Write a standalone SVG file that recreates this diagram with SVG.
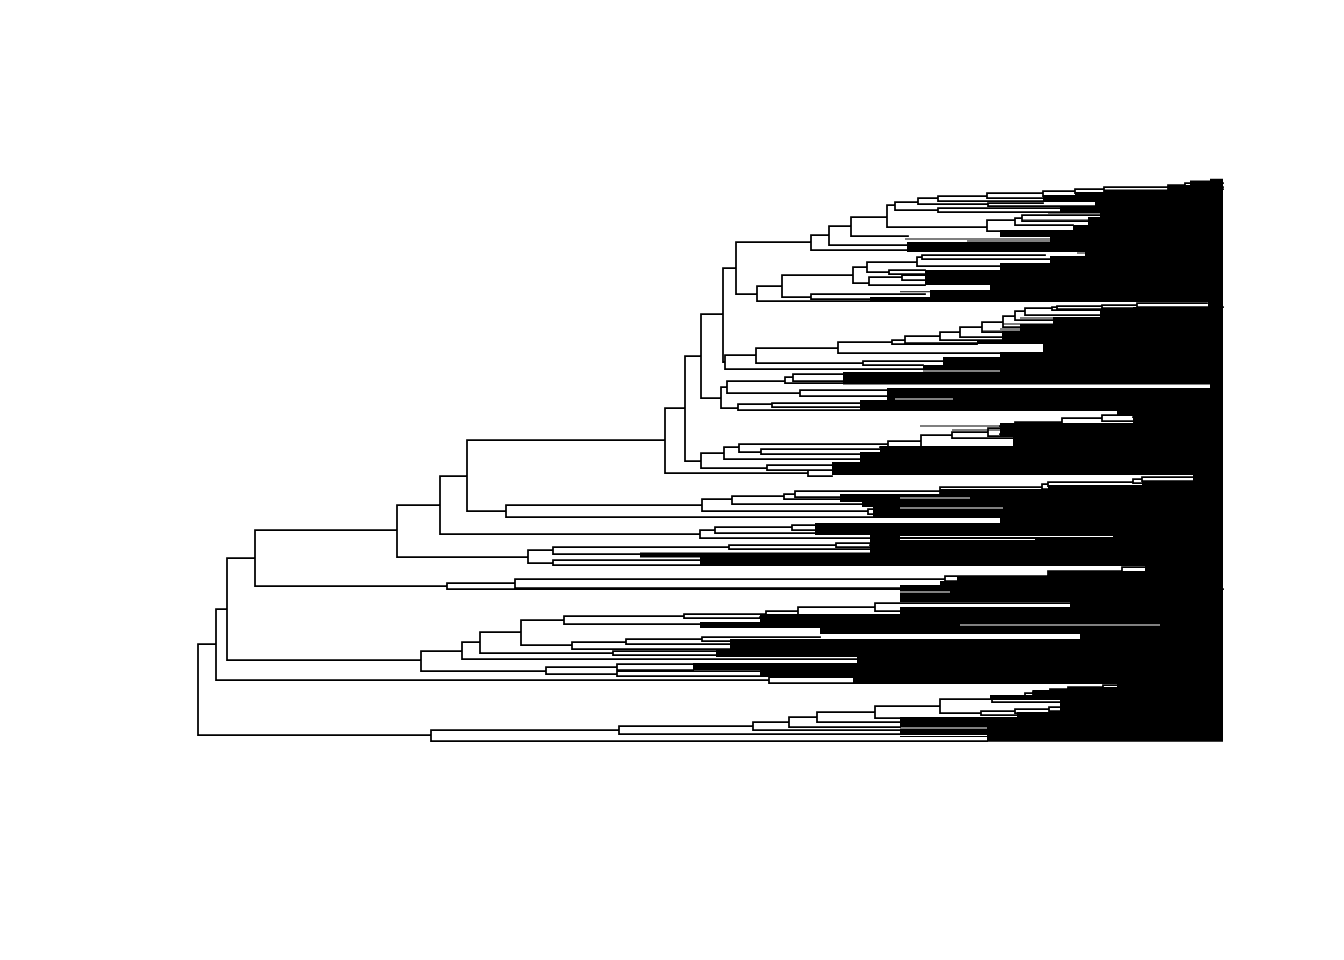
<svg xmlns="http://www.w3.org/2000/svg" width="1344" height="960" viewBox="0 0 1344 960">
<style>
.edge{fill:none;stroke:#000;stroke-width:1.75;stroke-linecap:square}
.fine{fill:none;stroke:#000;stroke-width:1.1}
.mass{fill:#000;stroke:none}
.gap{fill:none;stroke:#fff;stroke-width:1.2}
</style>
<rect width="1344" height="960" fill="#fff"/>
<g id="tips">
<path class="mass" d="M1210,178.7H1223V180.5H1210Z M1190,180.5H1223V185H1190Z M1168,185H1223V189.5H1168Z M1104,189.5H1223V192H1104Z M1075,192H1223V195H1075Z M1043,195H1223V202H1043Z M1095,202H1223V207H1095Z M1060,207H1223V212H1060Z M1100,212H1223V217H1100Z M1088,217H1223V225H1088Z M1073,225H1223V230H1073Z M1000,230H1223V237H1000Z M1050,237H1223V242H1050Z M907,242H1223V252H907Z M1085,252H1223V256H1085Z M1050,256H1223V263H1050Z M1000,263H1223V270H1000Z M925,270H1223V285H925Z M990,285H1223V290H990Z M930,290H1223V297H930Z M870,297H1223V302H870Z M1208,302H1223V307H1208Z M1133,307H1223V311H1133Z M1100,311H1223V317H1100Z M1053,317H1223V324H1053Z M1020,324H1223V331H1020Z M1002,331H1223V340H1002Z M977,340H1223V344H977Z M1043,344H1223V352H1043Z M1000,352H1223V357H1000Z M943,357H1223V365H943Z M923,365H1223V372H923Z M843,372H1223V384.5H843Z M1210,384.5H1223V388H1210Z M887,388H1223V400H887Z M860,400H1223V411H860Z M1117,411H1223V415H1117Z M1133,415H1223V423H1133Z M1000,423H1223V437H1000Z M1013,437H1223V446H1013Z M880,446H1223V452H880Z M860,452H1223V462H860Z M832,462H1223V475H832Z M1193,475H1223V481H1193Z M1142,481H1223V485H1142Z M1048,485H1223V489H1048Z M940,489H1223V494H940Z M840,494H1223V502H840Z M862,502H1223V507H862Z M873,507H1223V518H873Z M1000,518H1223V523H1000Z M815,523H1223V535H815Z M870,535H1223V552.5H870Z M640,552.5H1223V557.5H640Z M700,557.5H1223V566H700Z M1145,566H1223V571H1145Z M1048,571H1223V576H1048Z M957,576H1223V581H957Z M940,581H1223V585H940Z M900,585H1223V602H900Z M1070,602H1223V607H1070Z M900,607H1223V614H900Z M760,614H1223V622H760Z M700,622H1223V628H700Z M820,628H1223V634H820Z M1080,634H1223V639H1080Z M730,639H1223V650H730Z M716,650H1223V657H716Z M857,657H1223V663H857Z M693,663H1223V670H693Z M760,670H1223V677H760Z M853,677H1223V684H853Z M1117,684H1223V687H1117Z M1068,687H1223V690H1068Z M1033,690H1223V695H1033Z M990,695H1223V700H990Z M1060,700H1223V712H1060Z M1017,712H1223V717H1017Z M900,717H1223V737H900Z M987,737H1223V741.7H987Z"/>
<path class="gap" d="M895,399H953 M905,371H1000 M900,498H970 M900,508H1003 M900,536.5H1113 M900,539.5H1035 M900,592H950 M960,625H1160 M900,728H987 M900,735.5H987 M900,288.5H987"/>
<path class="fine" d="M905,239H1050 M967,241H1050 M1048,213H1100 M1022,220H1127 M932,281H1077 M900,291.7H987 M1077,253H1137 M1020,318H1067 M1003,324H1053 M982,331H1020 M1000,329H1020 M920,426H1000 M952,430H1000"/>
</g>
<g id="connectors">
<path class="edge" d="M198,644V735 M198,644H216 M198,735H431
M216,609V680 M216,609H227 M216,680H769
M227,558V660 M227,558H255 M227,660H421
M255,530V586 M255,530H397 M255,586H447
M397,505V557 M397,505H440 M397,557H528
M440,476V534 M440,476H467 M440,534H700
M467,440V511 M467,440H665 M467,511H506
M665,408V473 M665,408H685 M665,473H808
M685,356V461 M685,356H701 M685,461H701
M701,314V398 M701,314H723 M701,398H721
M723,268V362 M723,268H736 M723,362H725
M736,242V294 M736,242H811 M736,294H757
M811,235V250 M811,235H829 M811,250H907
M829,226V245 M829,226H851 M829,245H907
M851,217V236 M851,217H887 M851,236H908
M887,205V227 M887,205H895 M887,227H987
M987,220V231 M987,220H1015 M987,231H1000
M1015,218V225 M1015,218H1022 M1015,225H1073
M1022,215V221 M1022,215H1100 M1022,221H1088
M895,202V210 M895,202H918 M895,210H938
M938,208V212 M938,208H1060 M938,212H1100
M918,198V204 M918,198H938 M918,204H988
M938,196V201 M938,196H987 M938,201H1043
M988,203V206 M988,203H1043 M988,206H1095
M987,193V198 M987,193H1043 M987,198H1043
M1043,191V196 M1043,191H1075
M1075,189V193 M1075,189H1104
M1104,187V191 M1104,187H1168
M1168,185V189 M1168,185H1185 M1168,189H1223
M1185,183V187 M1185,183H1223 M1185,187H1223
M757,286V301 M757,286H782 M757,301H930
M782,275V297 M782,275H853 M782,297H811
M811,294V299 M811,294H925 M811,299H930
M853,267V283 M853,267H867 M853,283H869
M867,262V272 M867,262H917 M867,272H889
M889,270V274 M889,270H925 M889,274H925
M917,257V266 M917,257H922 M917,266H1000
M922,255V259 M922,255H1045 M922,259H1050
M869,277V285 M869,277H902 M869,285H925
M902,275V280 M902,275H925 M902,280H925
M725,355V369 M725,355H756 M725,369H923
M756,348V363 M756,348H838 M756,363H863
M838,342V353 M838,342H892 M838,353H1000
M892,340V344 M892,340H905 M892,344H977
M905,336V343 M905,336H940 M905,343H1043
M940,332V340 M940,332H960 M940,340H1002
M960,327V337 M960,327H982 M960,337H1002
M982,322V332 M982,322H1003 M982,332H1002
M1003,316V327 M1003,316H1015 M1003,327H1020
M1015,311V320 M1015,311H1025 M1015,320H1053
M1025,308V315 M1025,308H1052 M1025,315H1100
M1052,307V310 M1052,307H1057 M1052,310H1133
M1057,306V309 M1057,306H1102 M1057,309H1133
M1102,305V308 M1102,305H1137 M1102,308H1133
M1137,303V307 M1137,303H1207 M1137,307H1223
M863,361V365 M863,361H943 M863,365H923
M721,387V408 M721,387H727 M721,408H738
M727,381V393 M727,381H785 M727,393H800
M785,377V383 M785,377H793 M785,383H843
M793,374V381 M793,374H881 M793,381H843
M800,390V396 M800,390H887 M800,396H910
M738,404V410 M738,404H772 M738,410H860
M772,403V407 M772,403H860 M772,407H860
M701,453V468 M701,453H724 M701,468H767
M724,447V459 M724,447H739 M724,459H860
M739,444V452 M739,444H888 M739,452H761
M761,449V454 M761,449H880 M761,454H860
M888,441V447 M888,441H921 M888,447H880
M921,435V447 M921,435H952 M921,447H925
M952,432V438 M952,432H988 M952,438H1013
M988,428V436 M988,428H1015 M988,436H1000
M1015,422V434 M1015,422H1062 M1015,434H1000
M1062,418V426 M1062,418H1102 M1062,426H1000
M1102,415V421 M1102,415H1137 M1102,421H1133
M1137,413V417 M1137,413H1207 M1137,417H1133
M767,465V470 M767,465H832 M767,470H832
M808,470V476 M808,470H832 M808,476H832
M506,505V517 M506,505H702 M506,517H1000
M702,499V511 M702,499H732 M702,511H868
M868,509V514 M868,509H873 M868,514H873
M732,496V504 M732,496H784 M732,504H862
M784,494V499 M784,494H795 M784,499H840
M795,491V497 M795,491H940 M795,497H840
M940,487V495 M940,487H1042
M1042,484V489 M1042,484H1048 M1042,489H1048
M1048,482V486 M1048,482H1133 M1048,486H1100
M1133,479V483 M1133,479H1142 M1133,483H1142
M1142,477V481 M1142,477H1193 M1142,481H1193
M700,530V538 M700,530H715 M700,538H870
M715,527V533 M715,527H792 M715,533H815
M792,525V530 M792,525H1000 M792,530H815
M528,550V563 M528,550H553 M528,563H553
M553,547V554 M553,547H729 M553,554H640
M729,545V549 M729,545H836 M729,549H870
M836,543V547 M836,543H882 M836,547H870
M882,541V545 M882,541H1000 M882,545H870
M553,560V565 M553,560H700 M553,565H700
M447,583V589 M447,583H515 M447,589H1223
M515,579V588 M515,579H945 M515,588H900
M945,576V581 M945,576H1048 M945,581H957
M1048,571V577 M1048,571H1122 M1048,577H1060
M1122,567V573 M1122,567H1158 M1122,573H1145
M421,651V671 M421,651H462 M421,671H546
M462,642V659 M462,642H480 M462,659H857
M480,632V653 M480,632H521 M480,653H613
M613,651V655 M613,651H716 M613,655H716
M521,620V645 M521,620H564 M521,645H572
M564,616V624 M564,616H684 M564,624H700
M684,614V618 M684,614H766 M684,618H760
M766,611V617 M766,611H798 M766,617H760
M798,607V615 M798,607H875 M798,615H900
M875,603V611 M875,603H1070 M875,611H900
M572,642V649 M572,642H626 M572,649H730
M626,639V644 M626,639H702 M626,644H730
M702,637V641 M702,637H820 M702,641H730
M546,667V674 M546,667H617 M546,674H617
M617,664V670 M617,664H857 M617,670H693
M617,671V676 M617,671H760 M617,676H760
M769,677V683 M769,677H853 M769,683H853
M431,730V741 M431,730H619 M431,741H987
M619,726V734 M619,726H753 M619,734H1000
M753,722V730 M753,722H789 M753,730H900
M789,717V727 M789,717H817 M789,727H900
M817,712V722 M817,712H875 M817,722H900
M875,706V718 M875,706H940 M875,718H900
M940,699V713 M940,699H992 M940,713H981
M992,696V702 M992,696H1025 M992,702H1060
M1025,693V699 M1025,693H1033 M1025,699H1060
M1033,691V695 M1033,691H1050 M1033,695H1060
M1050,689V693 M1050,689H1068 M1050,693H1060
M1068,687V691 M1068,687H1103
M1103,685V689 M1103,685H1117 M1103,689H1117
M981,711V715 M981,711H1015 M981,715H1017
M1015,709V713 M1015,709H1049 M1015,713H1017
M1049,707V711 M1049,707H1088 M1049,711H1060
M1088,706V708 M1088,706H1106"/>
</g>
</svg>
